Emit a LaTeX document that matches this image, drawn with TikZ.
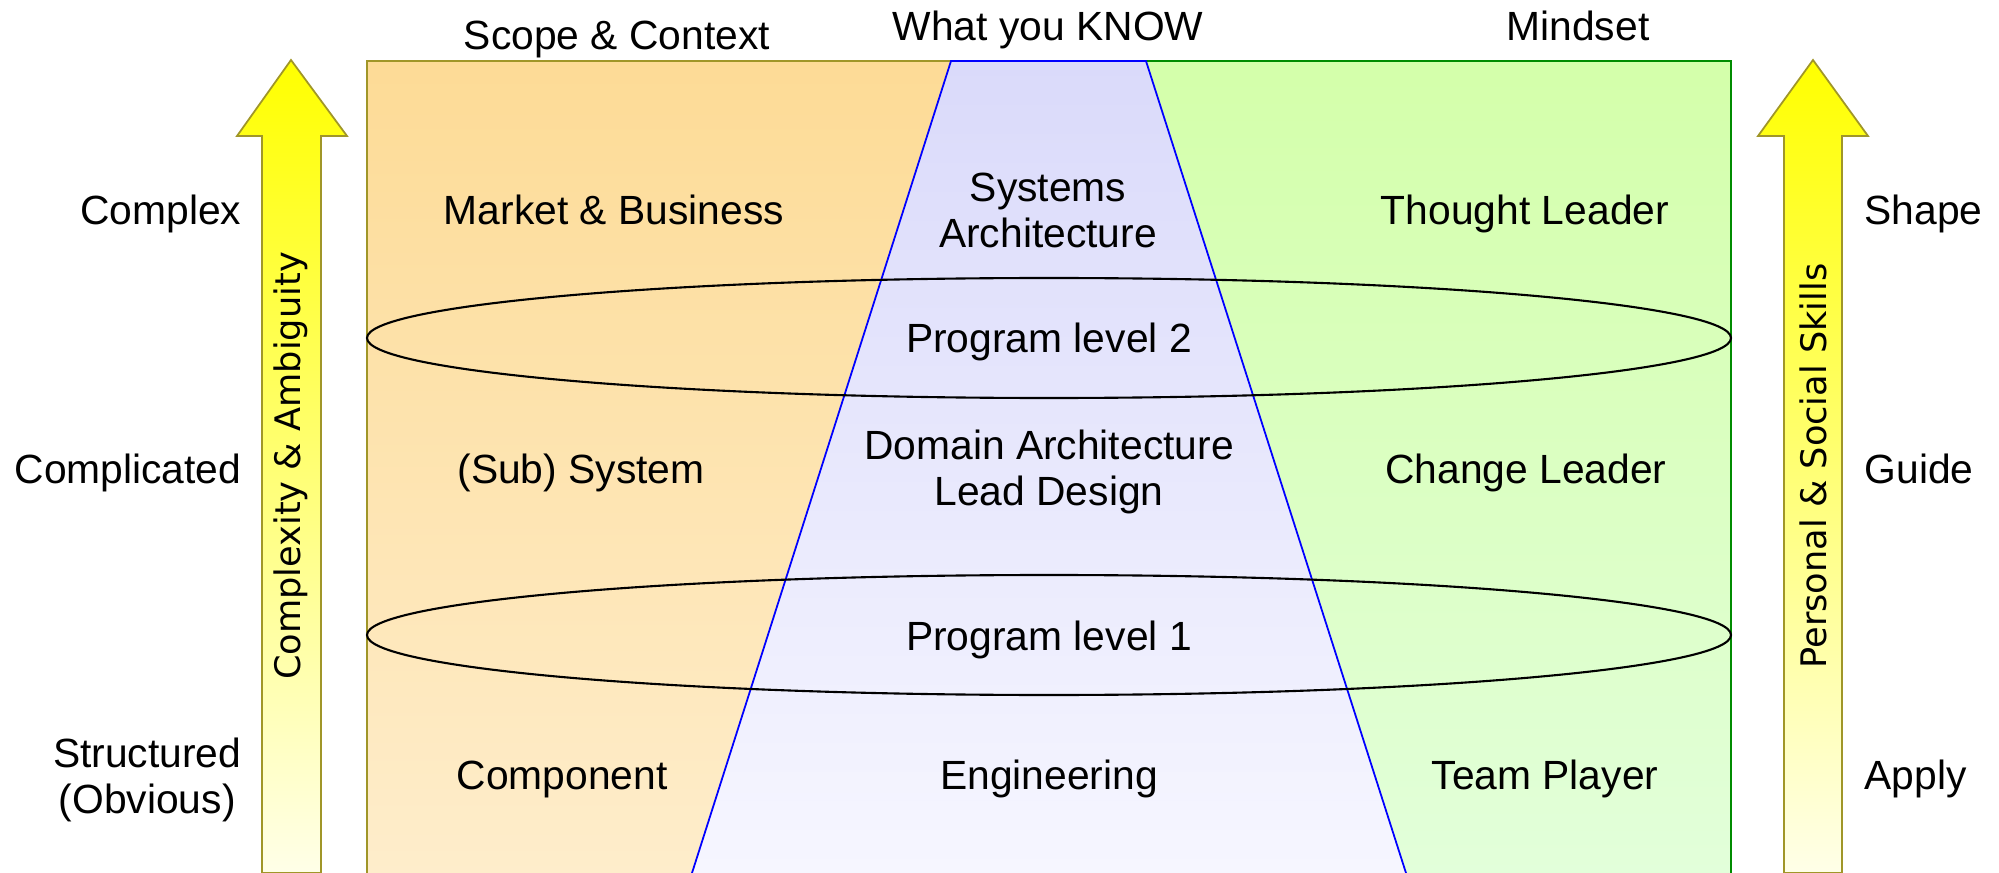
\documentclass[tikz,border=0pt]{standalone}
\usepackage{fontspec}
\setmainfont{Liberation Sans}
\newfontfamily\arrowfont{DejaVu Sans}
\usepackage{tikz}
\usetikzlibrary{calc}
\definecolor{scopetop}{RGB}{253,219,150}
\definecolor{scopebot}{RGB}{254,237,203}
\definecolor{knowtop}{RGB}{218,218,250}
\definecolor{knowbot}{RGB}{246,246,255}
\definecolor{mindtop}{RGB}{212,255,170}
\definecolor{mindbot}{RGB}{226,255,218}
\definecolor{arrowtop}{RGB}{255,255,0}
\definecolor{arrowbot}{RGB}{255,255,232}
\definecolor{olive}{RGB}{160,150,40}
\definecolor{mindline}{RGB}{0,140,0}
\tikzset{
  lbl/.style={font=\fontsize{11.6}{13.4}\selectfont, inner sep=0pt, anchor=base},
  twolbl/.style={font=\fontsize{11.6}{13.1}\selectfont, inner sep=0pt, align=center},
  uparrow/.style={draw=olive, line width=0.5pt, top color=arrowtop, bottom color=arrowbot},
  level/.style={draw=black, line width=0.6pt}
}

\begin{document}
\begin{tikzpicture}[x=0.01cm,y=-0.01cm]
    \useasboundingbox (0,0) rectangle (1999,873);
    % columns
    \fill[top color=scopetop, bottom color=scopebot] (367,61) rectangle (1100,873);
    \fill[top color=mindtop, bottom color=mindbot] (1000,61) rectangle (1731,873);
    \draw[olive, line width=0.5pt] (367,873) -- (367,61) -- (951,61);
    \draw[mindline, line width=0.5pt] (1146,61) -- (1731,61) -- (1731,873);
    \draw[blue, line width=0.5pt, top color=knowtop, bottom color=knowbot]
      (692,873) -- (951,61) -- (1146,61) -- (1406,873);
    % arrows
    \draw[uparrow] (291,60) -- (347,136) -- (321,136) -- (321,873) -- (262,873)
      -- (262,136) -- (237,136) -- cycle;
    \draw[uparrow] (1813,60) -- (1868,136) -- (1842,136) -- (1842,873) -- (1784,873)
      -- (1784,136) -- (1758,136) -- cycle;
    % program levels
    \draw[level] (1049,338) ellipse [x radius=682, y radius=60];
    \draw[level] (1049,635) ellipse [x radius=682, y radius=60];
    % headers
    \node[lbl] (scope) at (617,50) {Scope \& Context};
    \node[lbl] (know) at (1048,41) {What you KNOW};
    \node[lbl] (mind) at (1578,41) {Mindset};
    % left labels
    \node[lbl, anchor=base east] (complex) at (242,225) {Complex};
    \node[lbl, anchor=base east] (complicated) at (242,483) {Complicated};
    \node[twolbl, anchor=east] (structured) at (242,780) {Structured\\(Obvious)};
    % right labels
    \node[lbl, anchor=base west] (shape) at (1864,225) {Shape};
    \node[lbl, anchor=base west] (guide) at (1864,483) {Guide};
    \node[lbl, anchor=base west] (apply) at (1864,789) {Apply};
    % scope column
    \node[lbl] (market) at (614,225) {Market \& Business};
    \node[lbl] (subsys) at (581,483) {(Sub) System};
    \node[lbl] (component) at (562,789) {Component};
    % know column
    \node[twolbl] (sysarch) at (1048,210) {Systems\\Architecture};
    \node[lbl] (prog2) at (1049,353) {Program level 2};
    \node[twolbl] (domarch) at (1049,472) {Domain Architecture\\Lead Design};
    \node[lbl] (prog1) at (1049,650) {Program level 1};
    \node[lbl] (engineering) at (1049,789) {Engineering};
    % mindset column
    \node[lbl] (thought) at (1525,225) {Thought Leader};
    \node[lbl] (change) at (1526,483) {Change Leader};
    \node[lbl] (team) at (1545,789) {Team Player};
    % arrow texts
    \node[rotate=90, inner sep=0pt, font=\arrowfont\fontsize{10}{12}\selectfont] (ambig) at (291,466) {Complexity \& Ambiguity};
    \node[rotate=90, inner sep=0pt, font=\arrowfont\fontsize{10}{12}\selectfont] (skills) at (1813,466) {Personal \& Social Skills};
\end{tikzpicture}
\end{document}
